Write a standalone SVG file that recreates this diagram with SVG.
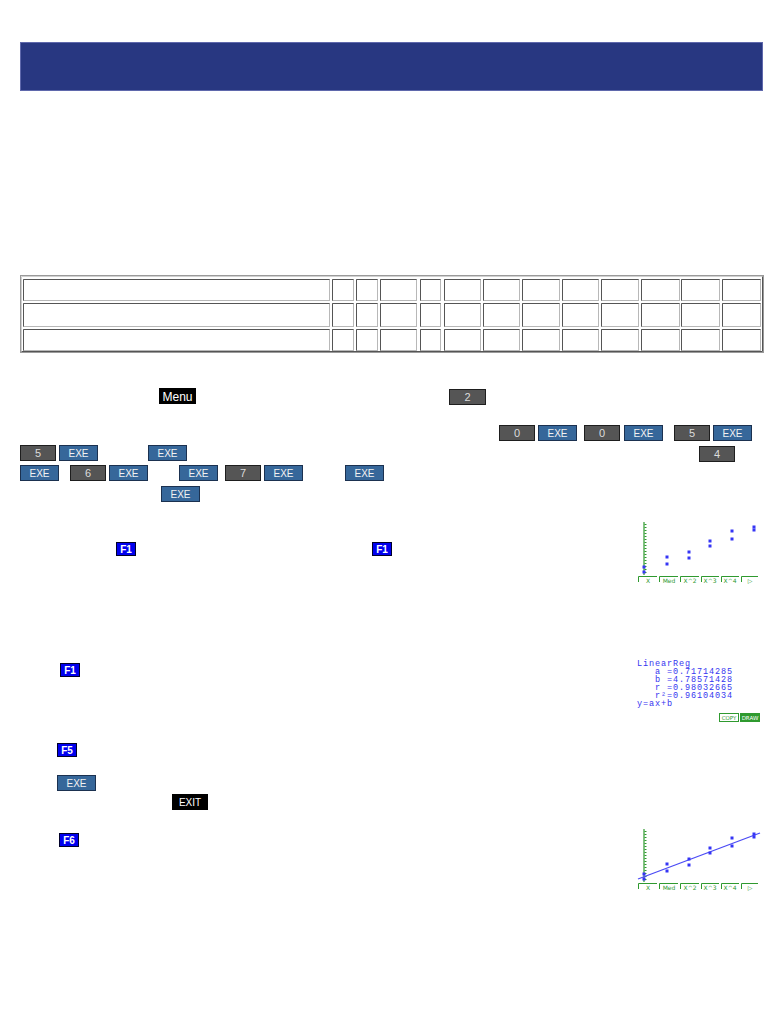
<svg xmlns="http://www.w3.org/2000/svg" width="784" height="1015" viewBox="0 0 784 1015">
<style>
.cell{fill:#fff;stroke:#b8b8b8;stroke-width:1}
.cedge{fill:none;stroke:#555;stroke-width:1}
.num{fill:#555;stroke:#1e1e1e;stroke-width:1}
.exe{fill:#36679a;stroke:#1b3150;stroke-width:1}
.blk{fill:#000;stroke:#000}
.fk{fill:#0000ee;stroke:#00002a;stroke-width:1}
.kt{font-family:"Liberation Sans",Arial,sans-serif;font-size:11px;fill:#dcdcdc;text-anchor:middle}
.et{font-family:"Liberation Sans",Arial,sans-serif;font-size:10px;fill:#f2f2f2;text-anchor:middle}
.mt{font-family:"Liberation Sans",Arial,sans-serif;font-size:12px;fill:#fff;text-anchor:middle}
.ft{font-family:"Liberation Sans",Arial,sans-serif;font-size:10px;font-weight:bold;fill:#fff;text-anchor:middle}
.ax{stroke:#2f9a2f;stroke-width:1.2;fill:none}
.tick{stroke:#2f9a2f;stroke-width:2;stroke-dasharray:1 2;fill:none}
.tab{stroke:#2f9a2f;stroke-width:1;fill:none}
.tt{font-family:"DejaVu Sans",sans-serif;font-size:6px;fill:#2f9a2f;text-anchor:middle}
.pt{fill:#3535f5}
.st{font-family:"Liberation Mono","DejaVu Sans Mono",monospace;font-size:8.5px;letter-spacing:0.9px;fill:#3535f0}
</style>

<g id="header">
<rect x="20.5" y="42.5" width="742" height="48" fill="#283781" stroke="#5f68ac" stroke-width="1"/>
</g>

<g id="table">
<rect x="20.5" y="275.5" width="743" height="77" fill="#fff" stroke="#9a9a9a"/>
<path d="M21.5 351.5 V276.5 H762.5" fill="none" stroke="#d0d0d0"/>
<path d="M21.5 351.5 H762.5 V276.5" fill="none" stroke="#555"/>
<g id="cells">
<rect class="cell" x="23.5" y="279.5" width="306" height="21"/>
<rect class="cell" x="332.5" y="279.5" width="21" height="21"/>
<rect class="cell" x="356.5" y="279.5" width="21" height="21"/>
<rect class="cell" x="380.5" y="279.5" width="36" height="21"/>
<rect class="cell" x="420.5" y="279.5" width="20" height="21"/>
<rect class="cell" x="444.5" y="279.5" width="36" height="21"/>
<rect class="cell" x="483.5" y="279.5" width="36" height="21"/>
<rect class="cell" x="522.5" y="279.5" width="37" height="21"/>
<rect class="cell" x="562.5" y="279.5" width="36" height="21"/>
<rect class="cell" x="601.5" y="279.5" width="37" height="21"/>
<rect class="cell" x="641.5" y="279.5" width="38" height="21"/>
<rect class="cell" x="681.5" y="279.5" width="38" height="21"/>
<rect class="cell" x="722.5" y="279.5" width="38" height="21"/>

<rect class="cell" x="23.5" y="303.5" width="306" height="23"/>
<rect class="cell" x="332.5" y="303.5" width="21" height="23"/>
<rect class="cell" x="356.5" y="303.5" width="21" height="23"/>
<rect class="cell" x="380.5" y="303.5" width="36" height="23"/>
<rect class="cell" x="420.5" y="303.5" width="20" height="23"/>
<rect class="cell" x="444.5" y="303.5" width="36" height="23"/>
<rect class="cell" x="483.5" y="303.5" width="36" height="23"/>
<rect class="cell" x="522.5" y="303.5" width="37" height="23"/>
<rect class="cell" x="562.5" y="303.5" width="36" height="23"/>
<rect class="cell" x="601.5" y="303.5" width="37" height="23"/>
<rect class="cell" x="641.5" y="303.5" width="38" height="23"/>
<rect class="cell" x="681.5" y="303.5" width="38" height="23"/>
<rect class="cell" x="722.5" y="303.5" width="38" height="23"/>

<rect class="cell" x="23.5" y="329.5" width="306" height="21"/>
<rect class="cell" x="332.5" y="329.5" width="21" height="21"/>
<rect class="cell" x="356.5" y="329.5" width="21" height="21"/>
<rect class="cell" x="380.5" y="329.5" width="36" height="21"/>
<rect class="cell" x="420.5" y="329.5" width="20" height="21"/>
<rect class="cell" x="444.5" y="329.5" width="36" height="21"/>
<rect class="cell" x="483.5" y="329.5" width="36" height="21"/>
<rect class="cell" x="522.5" y="329.5" width="37" height="21"/>
<rect class="cell" x="562.5" y="329.5" width="36" height="21"/>
<rect class="cell" x="601.5" y="329.5" width="37" height="21"/>
<rect class="cell" x="641.5" y="329.5" width="38" height="21"/>
<rect class="cell" x="681.5" y="329.5" width="38" height="21"/>
<rect class="cell" x="722.5" y="329.5" width="38" height="21"/>
</g>
<path class="cedge" d="M23.5 300.5V279.5H329.5 M332.5 300.5V279.5H353.5 M356.5 300.5V279.5H377.5 M380.5 300.5V279.5H416.5 M420.5 300.5V279.5H440.5 M444.5 300.5V279.5H480.5 M483.5 300.5V279.5H519.5 M522.5 300.5V279.5H559.5 M562.5 300.5V279.5H598.5 M601.5 300.5V279.5H638.5 M641.5 300.5V279.5H679.5 M681.5 300.5V279.5H719.5 M722.5 300.5V279.5H760.5"/>
<path class="cedge" d="M23.5 326.5V303.5H329.5 M332.5 326.5V303.5H353.5 M356.5 326.5V303.5H377.5 M380.5 326.5V303.5H416.5 M420.5 326.5V303.5H440.5 M444.5 326.5V303.5H480.5 M483.5 326.5V303.5H519.5 M522.5 326.5V303.5H559.5 M562.5 326.5V303.5H598.5 M601.5 326.5V303.5H638.5 M641.5 326.5V303.5H679.5 M681.5 326.5V303.5H719.5 M722.5 326.5V303.5H760.5"/>
<path class="cedge" d="M23.5 350.5V329.5H329.5 M332.5 350.5V329.5H353.5 M356.5 350.5V329.5H377.5 M380.5 350.5V329.5H416.5 M420.5 350.5V329.5H440.5 M444.5 350.5V329.5H480.5 M483.5 350.5V329.5H519.5 M522.5 350.5V329.5H559.5 M562.5 350.5V329.5H598.5 M601.5 350.5V329.5H638.5 M641.5 350.5V329.5H679.5 M681.5 350.5V329.5H719.5 M722.5 350.5V329.5H760.5"/>
</g>

<g id="keys">
<g id="k-menu"><rect class="blk" x="159.5" y="388.5" width="36" height="15"/><text class="mt" x="177.5" y="400.5">Menu</text></g>
<g id="k-2"><rect class="num" x="449.5" y="389.5" width="36" height="15"/><text class="kt" x="467.5" y="401">2</text></g>

<g id="k-0a"><rect class="num" x="499.5" y="425.5" width="35" height="15"/><text class="kt" x="517" y="437">0</text></g>
<g id="k-exe1"><rect class="exe" x="538.5" y="425.5" width="38" height="15"/><text class="et" x="557.5" y="437">EXE</text></g>
<g id="k-0b"><rect class="num" x="584.5" y="425.5" width="35" height="15"/><text class="kt" x="602" y="437">0</text></g>
<g id="k-exe2"><rect class="exe" x="624.5" y="425.5" width="38" height="15"/><text class="et" x="643.5" y="437">EXE</text></g>
<g id="k-5a"><rect class="num" x="674.5" y="425.5" width="35" height="15"/><text class="kt" x="692" y="437">5</text></g>
<g id="k-exe3"><rect class="exe" x="713.5" y="425.5" width="38" height="15"/><text class="et" x="732.5" y="437">EXE</text></g>

<g id="k-5b"><rect class="num" x="20.5" y="445.5" width="35" height="15"/><text class="kt" x="38" y="457">5</text></g>
<g id="k-exe4"><rect class="exe" x="59.5" y="445.5" width="38" height="15"/><text class="et" x="78.5" y="457">EXE</text></g>
<g id="k-exe5"><rect class="exe" x="148.5" y="445.5" width="38" height="15"/><text class="et" x="167.5" y="457">EXE</text></g>
<g id="k-4"><rect class="num" x="699.5" y="446.5" width="35" height="15"/><text class="kt" x="717" y="458">4</text></g>

<g id="k-exe6"><rect class="exe" x="20.5" y="465.5" width="38" height="15"/><text class="et" x="39.5" y="477">EXE</text></g>
<g id="k-6"><rect class="num" x="70.5" y="465.5" width="35" height="15"/><text class="kt" x="88" y="477">6</text></g>
<g id="k-exe7"><rect class="exe" x="109.5" y="465.5" width="38" height="15"/><text class="et" x="128.5" y="477">EXE</text></g>
<g id="k-exe8"><rect class="exe" x="179.5" y="465.5" width="38" height="15"/><text class="et" x="198.5" y="477">EXE</text></g>
<g id="k-7"><rect class="num" x="225.5" y="465.5" width="35" height="15"/><text class="kt" x="243" y="477">7</text></g>
<g id="k-exe9"><rect class="exe" x="264.5" y="465.5" width="38" height="15"/><text class="et" x="283.5" y="477">EXE</text></g>
<g id="k-exe10"><rect class="exe" x="345.5" y="465.5" width="38" height="15"/><text class="et" x="364.5" y="477">EXE</text></g>

<g id="k-exe11"><rect class="exe" x="161.5" y="486.5" width="38" height="15"/><text class="et" x="180.5" y="498">EXE</text></g>

<g id="k-f1a"><rect class="fk" x="116.5" y="542.5" width="19" height="13"/><text class="ft" x="126" y="553">F1</text></g>
<g id="k-f1b"><rect class="fk" x="372.5" y="542.5" width="19" height="13"/><text class="ft" x="382" y="553">F1</text></g>
<g id="k-f1c"><rect class="fk" x="60.5" y="663.5" width="19" height="13"/><text class="ft" x="70" y="674">F1</text></g>
<g id="k-f5"><rect class="fk" x="57.5" y="743.5" width="19" height="13"/><text class="ft" x="67" y="754">F5</text></g>
<g id="k-exe12"><rect class="exe" x="57.5" y="775.5" width="38" height="15"/><text class="et" x="76.5" y="787">EXE</text></g>
<g id="k-exit"><rect class="blk" x="172.5" y="794.5" width="35" height="15"/><text class="et" x="190" y="806" style="fill:#fff">EXIT</text></g>
<g id="k-f6"><rect class="fk" x="59.5" y="833.5" width="19" height="13"/><text class="ft" x="69" y="844">F6</text></g>
</g>

<g id="screen1">
<line class="ax" x1="644" y1="522" x2="644" y2="575"/>
<line class="tick" x1="645.5" y1="524" x2="645.5" y2="574"/>
<rect class="pt" x="642.5" y="565.5" width="3" height="3"/><rect class="pt" x="642.5" y="570.5" width="3" height="3"/>
<rect class="pt" x="665.5" y="555.5" width="3" height="3"/><rect class="pt" x="665.5" y="562.5" width="3" height="3"/>
<rect class="pt" x="687.5" y="550.5" width="3" height="3"/><rect class="pt" x="687.5" y="556.5" width="3" height="3"/>
<rect class="pt" x="708.5" y="539.5" width="3" height="3"/><rect class="pt" x="708.5" y="544.5" width="3" height="3"/>
<rect class="pt" x="730.5" y="529.5" width="3" height="3"/><rect class="pt" x="730.5" y="537.5" width="3" height="3"/>
<rect class="pt" x="752.5" y="525.5" width="3" height="3"/><rect class="pt" x="752.5" y="528.5" width="3" height="3"/>
<path class="tab" d="M638.5 582V576.5H657 M659.5 582V576.5H678 M680.5 582V576.5H699 M701.5 582V576.5H719 M721.5 582V576.5H739 M741.5 582V576.5H758"/>
<text class="tt" x="648" y="582.5">X</text><text class="tt" x="669" y="582.5">Med</text><text class="tt" x="690" y="582.5">X^2</text><text class="tt" x="710" y="582.5">X^3</text><text class="tt" x="730" y="582.5">X^4</text><text class="tt" x="750" y="582.5">▷</text>
</g>

<g id="screen2">
<text class="st" x="637" y="665.5">LinearReg</text>
<text class="st" x="655" y="673.5">a =0.71714285</text>
<text class="st" x="655" y="681.5">b =4.78571428</text>
<text class="st" x="655" y="689.5">r =0.98032665</text>
<text class="st" x="655" y="697.5">r²=0.96104034</text>
<text class="st" x="637" y="705.5">y=ax+b</text>
<rect x="719.5" y="713.5" width="19" height="8" fill="none" stroke="#2f9a2f"/>
<text class="tt" x="729" y="720" style="font-size:5.5px">COPY</text>
<rect x="740.5" y="713.5" width="19" height="8" fill="#2f9a2f" stroke="#2f9a2f"/>
<text class="tt" x="750" y="720" style="font-size:5.5px;fill:#fff">DRAW</text>
</g>

<g id="screen3">
<line class="ax" x1="644" y1="829" x2="644" y2="882"/>
<line class="tick" x1="645.5" y1="831" x2="645.5" y2="881"/>
<line x1="638" y1="879" x2="760" y2="833" stroke="#4a4af5" stroke-width="1.3"/>
<rect class="pt" x="642.5" y="872.5" width="3" height="3"/><rect class="pt" x="642.5" y="877.5" width="3" height="3"/>
<rect class="pt" x="665.5" y="862.5" width="3" height="3"/><rect class="pt" x="665.5" y="869.5" width="3" height="3"/>
<rect class="pt" x="687.5" y="857.5" width="3" height="3"/><rect class="pt" x="687.5" y="863.5" width="3" height="3"/>
<rect class="pt" x="708.5" y="846.5" width="3" height="3"/><rect class="pt" x="708.5" y="851.5" width="3" height="3"/>
<rect class="pt" x="730.5" y="836.5" width="3" height="3"/><rect class="pt" x="730.5" y="844.5" width="3" height="3"/>
<rect class="pt" x="752.5" y="832.5" width="3" height="3"/><rect class="pt" x="752.5" y="835.5" width="3" height="3"/>
<path class="tab" d="M638.5 889V883.5H657 M659.5 889V883.5H678 M680.5 889V883.5H699 M701.5 889V883.5H719 M721.5 889V883.5H739 M741.5 889V883.5H758"/>
<text class="tt" x="648" y="889.5">X</text><text class="tt" x="669" y="889.5">Med</text><text class="tt" x="690" y="889.5">X^2</text><text class="tt" x="710" y="889.5">X^3</text><text class="tt" x="730" y="889.5">X^4</text><text class="tt" x="750" y="889.5">▷</text>
</g>
</svg>
